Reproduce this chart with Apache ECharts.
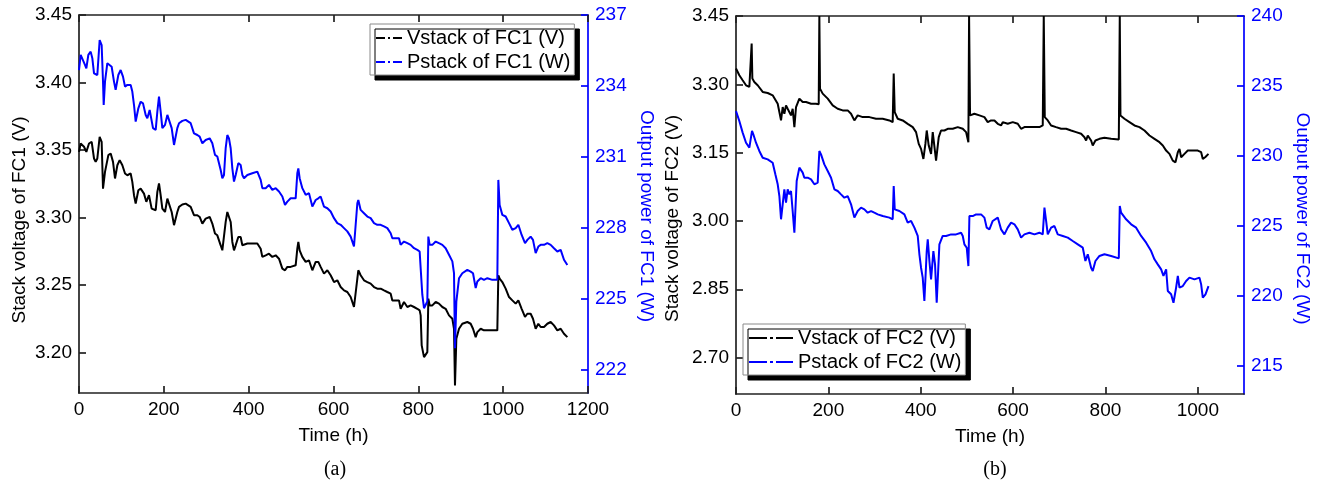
<!DOCTYPE html>
<html>
<head>
<meta charset="utf-8">
<script src="https://cdn.jsdelivr.net/npm/echarts@6/dist/echarts.min.js"></script>
<style>
  html, body { margin: 0; padding: 0; background: #fff; }
  #chart { width: 1335px; height: 493px; }
</style>
</head>
<body>
<div id="chart"></div>
<script>
// ---- FC1: stack voltage (V) and output power (W) versus time (h) ----
const fc1VoltTime = [0,3.9,11.8,17.3,23.6,29.9,35.4,39.3,43.2,48.7,
  53.4,56.6,61.3,69.2,74.7,80.2,84.9,90.4,95.9,102.2,
  108.5,114.0,121.8,125.7,129.7,133.6,139.9,145.4,153.2,158.7,
  165.0,171.3,174.5,180.8,184.7,188.6,192.5,196.5,202.8,208.3,
  212.2,218.5,224.0,227.9,231.8,235.8,243.6,251.5,263.3,271.1,
  279.0,284.5,290.8,298.6,308.1,314.3,320.6,326.1,334.0,337.9,
  341.8,345.8,349.7,353.6,357.6,361.5,365.4,369.4,375.6,381.1,
  385.1,389.0,396.9,408.6,420.4,424.4,428.3,432.2,440.1,447.9,
  455.8,463.7,471.5,479.4,485.7,491.2,499.0,510.8,514.7,517.1,
  520.2,526.5,534.4,542.2,550.1,558.0,564.2,569.7,577.6,585.5,
  593.3,601.2,609.0,616.9,624.8,632.6,640.5,648.3,652.3,656.2,
  658.5,664.0,671.9,679.8,687.6,695.5,703.3,711.2,719.1,726.9,
  734.8,738.7,746.6,754.4,758.3,766.2,774.1,781.9,789.8,797.6,
  803.1,805.5,807.9,813.4,817.3,821.2,823.6,826.7,833.0,840.9,
  848.7,856.6,864.4,872.3,880.2,884.1,886.4,889.6,895.9,903.7,
  915.5,923.4,928.9,935.2,939.1,947.0,954.8,962.7,974.5,986.2,
  988.6,991.7,998.0,1005.9,1013.8,1021.6,1029.5,1035.8,1043.6,1051.5,
  1057.0,1064.8,1070.3,1076.6,1082.9,1088.4,1096.3,1104.1,1112.0,1119.8,
  1127.7,1135.6,1143.4,1151.3];
const fc1Volt = [3.3486,3.3548,3.3524,3.3486,3.3548,3.3561,3.3437,3.3412,3.3437,3.3598,
  3.3561,3.3214,3.3338,3.3462,3.3474,3.3412,3.3289,3.3387,3.3425,3.3387,
  3.3326,3.3313,3.3326,3.3264,3.3165,3.3103,3.3202,3.3214,3.3177,3.3116,
  3.3165,3.3066,3.3066,3.3054,3.3190,3.3252,3.3165,3.3066,3.3041,3.3140,
  3.3153,3.3041,3.2943,3.2930,3.3041,3.3079,3.3096,3.3103,3.3079,3.3017,
  3.3017,3.3004,3.2955,3.2992,3.3004,3.2955,3.2881,3.2868,3.2794,3.2757,
  3.2769,3.2967,3.3041,3.3029,3.2967,3.2819,3.2757,3.2794,3.2856,3.2856,
  3.2794,3.2782,3.2807,3.2807,3.2807,3.2819,3.2769,3.2708,3.2720,3.2732,
  3.2708,3.2720,3.2695,3.2621,3.2609,3.2634,3.2634,3.2646,3.2769,3.2819,
  3.2757,3.2708,3.2671,3.2683,3.2609,3.2671,3.2671,3.2634,3.2584,3.2609,
  3.2572,3.2522,3.2535,3.2485,3.2460,3.2448,3.2411,3.2337,3.2337,3.2547,
  3.2609,3.2572,3.2535,3.2522,3.2510,3.2485,3.2473,3.2473,3.2460,3.2448,
  3.2436,3.2386,3.2386,3.2386,3.2324,3.2374,3.2337,3.2349,3.2337,3.2324,
  3.2312,3.2275,3.2053,3.1966,3.1954,3.2003,3.2399,3.2349,3.2349,3.2374,
  3.2362,3.2337,3.2324,3.2275,3.2250,3.2176,3.1756,3.2102,3.2176,3.2213,
  3.2226,3.2213,3.2176,3.2114,3.2151,3.2176,3.2164,3.2164,3.2164,3.2164,
  3.2572,3.2547,3.2522,3.2473,3.2411,3.2386,3.2362,3.2386,3.2324,3.2263,
  3.2287,3.2287,3.2250,3.2176,3.2213,3.2189,3.2189,3.2213,3.2226,3.2201,
  3.2164,3.2176,3.2139,3.2114];

const fc1PowerTime = [0,3.9,7.9,14.1,17.3,22.0,27.5,31.4,35.4,39.3,
  43.2,48.7,53.4,56.6,58.2,61.3,66.8,70.7,77.0,82.5,
  86.4,92.7,98.2,103.7,108.5,114.0,121.8,125.7,129.7,133.6,
  139.9,145.4,150.9,157.2,161.1,166.6,171.3,174.5,180.8,184.7,
  188.6,192.5,196.5,202.8,208.3,212.2,218.5,224.0,227.9,231.8,
  235.8,243.6,251.5,263.3,271.1,279.0,284.5,290.8,298.6,308.1,
  314.3,320.6,326.1,334.0,337.9,341.8,345.8,349.7,353.6,357.6,
  361.5,365.4,369.4,375.6,381.1,385.1,389.0,396.9,408.6,420.4,
  424.4,428.3,432.2,440.1,447.9,455.8,463.7,471.5,479.4,485.7,
  491.2,499.0,510.8,514.7,517.1,520.2,526.5,534.4,542.2,550.1,
  558.0,564.2,569.7,577.6,585.5,593.3,601.2,609.0,616.9,624.8,
  632.6,640.5,648.3,652.3,656.2,658.5,664.0,671.9,679.8,687.6,
  695.5,703.3,711.2,719.1,726.9,734.8,738.7,746.6,754.4,758.3,
  766.2,774.1,781.9,789.8,797.6,803.1,805.5,809.4,813.4,817.3,
  821.2,823.6,826.7,833.0,840.9,848.7,856.6,864.4,872.3,880.2,
  884.1,886.4,889.6,895.9,903.7,915.5,923.4,928.9,935.2,939.1,
  947.0,954.8,962.7,974.5,986.2,988.6,991.7,998.0,1005.9,1013.8,
  1021.6,1029.5,1035.8,1043.6,1051.5,1057.0,1064.8,1070.3,1076.6,1082.9,
  1088.4,1096.3,1104.1,1112.0,1119.8,1127.7,1135.6,1143.4,1151.3];
const fc1Power = [234.67,235.31,235.38,234.89,234.74,235.31,235.45,235.17,234.53,234.46,
  234.46,235.94,235.73,234.18,233.19,234.18,234.96,235.03,234.81,234.18,
  233.83,234.46,234.67,234.39,233.97,234.04,234.04,233.76,233.19,232.49,
  233.05,233.33,233.26,232.77,232.63,232.98,233.05,232.21,232.14,232.91,
  233.55,232.91,232.21,232.35,232.77,232.84,232.21,231.50,231.43,232.21,
  232.42,232.52,232.56,232.42,231.99,231.92,231.85,231.57,231.71,231.78,
  231.57,231.08,231.01,230.44,230.09,230.23,231.36,231.92,231.78,231.36,
  230.51,229.95,230.23,230.73,230.65,230.23,230.09,230.23,230.30,230.37,
  230.30,230.02,229.67,229.67,229.81,229.60,229.67,229.53,229.32,228.96,
  229.10,229.24,229.24,230.30,230.51,230.09,229.67,229.39,229.46,228.89,
  229.17,229.24,229.32,228.89,228.82,228.68,228.40,228.19,228.12,227.98,
  227.84,227.62,227.20,227.27,229.03,229.17,228.75,228.61,228.47,228.40,
  228.19,228.12,228.12,228.05,227.98,227.76,227.55,227.55,227.55,227.27,
  227.41,227.34,227.27,227.13,227.06,226.99,226.28,225.16,224.59,224.52,
  224.87,227.62,227.27,227.27,227.41,227.34,227.27,227.13,226.85,226.57,
  226.07,222.90,224.87,225.86,226.07,226.21,226.14,226.07,225.44,225.72,
  225.86,225.79,225.86,225.79,225.79,230.02,228.96,228.54,228.47,228.19,
  227.91,227.98,228.12,227.69,227.34,227.48,227.62,227.48,226.92,227.20,
  227.27,227.27,227.34,227.27,227.13,226.99,227.06,226.64,226.42];

// ---- FC2: stack voltage (V) and output power (W) versus time (h) ----
const fc2VoltTime = [0,7.2,14.4,21.7,28.9,32.5,33.9,35.4,39.7,46.9,
  57.8,68.6,79.4,90.3,93.9,97.5,101.1,104.7,108.3,111.9,
  115.5,119.1,122.7,126.4,130.0,137.2,144.4,151.6,162.5,173.3,
  179.1,180.5,181.9,187.7,198.6,209.4,220.2,231.0,241.9,249.1,
  256.3,263.5,274.4,288.8,303.2,317.7,332.1,339.3,341.5,343.7,
  350.2,361.0,371.8,382.7,389.9,395.7,400.7,405.8,410.1,413.0,
  417.3,422.4,426.0,429.6,433.2,439.0,444.0,451.3,458.5,469.3,
  480.1,491.0,498.2,503.2,504.7,506.8,516.2,527.1,537.9,545.1,
  552.3,559.6,566.8,574.0,577.6,588.4,599.3,610.1,617.3,624.5,
  635.4,646.2,657.0,664.2,666.4,668.6,675.1,682.3,693.1,704.0,
  714.8,725.6,736.4,747.3,754.5,758.1,761.7,768.9,772.5,778.3,
  787.0,797.8,812.3,828.9,831.0,832.5,841.1,852.0,862.8,873.6,
  884.5,895.3,906.1,916.9,924.2,931.4,938.6,945.8,951.6,956.7,
  960.3,963.9,971.1,978.3,989.1,1000.0,1007.2,1010.8,1015.9,1023.1];
const fc2Volt = [3.3346,3.3199,3.3089,3.2979,3.2942,3.2942,3.3897,3.3126,3.3052,3.2979,
  3.2832,3.2809,3.2758,3.2574,3.2391,3.2207,3.2501,3.2354,3.2538,3.2464,
  3.2501,3.2317,3.2464,3.2060,3.2501,3.2685,3.2611,3.2611,3.2574,3.2574,
  3.2560,3.45,3.2905,3.2795,3.2685,3.2538,3.2464,3.2427,3.2427,3.2354,
  3.2207,3.2317,3.2280,3.2280,3.2244,3.2244,3.2207,3.2170,3.3236,3.2391,
  3.2244,3.2207,3.2133,3.2060,3.1950,3.1692,3.1582,3.1362,3.1692,3.1986,
  3.1656,3.1472,3.1950,3.1913,3.1325,3.1839,3.1986,3.1986,3.2023,3.2023,
  3.2060,3.2023,3.1950,3.1729,3.45,3.2317,3.2354,3.2317,3.2280,3.2170,
  3.2207,3.2207,3.2133,3.2097,3.2170,3.2133,3.2170,3.2133,3.2023,3.2060,
  3.2060,3.2060,3.2060,3.2097,3.45,3.2280,3.2207,3.2097,3.2060,3.2023,
  3.2023,3.1986,3.1950,3.1913,3.1839,3.1766,3.1876,3.1766,3.1656,3.1766,
  3.1803,3.1825,3.1803,3.1788,3.45,3.2317,3.2244,3.2170,3.2097,3.2060,
  3.1986,3.1876,3.1803,3.1729,3.1656,3.1545,3.1472,3.1325,3.1288,3.1509,
  3.1582,3.1398,3.1472,3.1545,3.1545,3.1545,3.1509,3.1362,3.1398,3.1472];

const fc2PowerTime = [0,7.2,14.4,21.7,28.9,32.5,34.7,37.5,43.3,50.5,
  57.8,68.6,79.4,85.2,90.3,93.9,97.5,101.1,104.7,108.3,
  111.9,115.5,119.1,122.7,126.4,128.5,131.4,137.2,144.4,148.0,
  155.2,162.5,169.7,176.9,180.5,184.1,191.3,198.6,205.8,213.0,
  220.2,227.4,234.7,241.9,249.1,256.3,263.5,270.8,278.0,285.2,
  292.4,299.6,306.9,317.7,332.1,339.3,341.5,343.7,353.8,364.6,
  371.8,379.1,386.3,393.5,397.1,400.7,404.3,407.9,413.0,415.2,
  418.8,422.4,427.4,431.0,434.6,440.4,447.6,454.9,465.7,476.5,
  487.4,491.0,494.6,499.6,503.2,505.4,512.6,519.8,530.7,537.9,
  542.9,548.7,555.9,566.8,574.0,581.2,588.4,595.7,602.9,610.1,
  617.3,624.5,635.4,646.2,657.0,664.2,667.9,671.5,675.1,682.3,
  689.5,696.7,707.6,718.4,729.2,740.1,750.9,756.6,761.7,768.9,
  772.5,778.3,787.0,797.8,812.3,828.9,831.0,833.9,844.7,855.6,
  866.4,877.2,888.1,898.9,906.1,913.3,920.6,925.6,931.4,935.0,
  942.2,947.3,953.0,956.7,960.3,967.5,974.7,981.9,992.8,1003.6,
  1007.2,1010.8,1016.6,1023.1];
const fc2Power = [233.21,232.50,231.67,230.95,230.60,230.60,231.79,231.55,230.95,230.36,
  229.88,229.76,229.52,228.69,227.98,227.14,225.48,226.55,227.62,226.67,
  227.62,227.26,227.50,226.07,224.52,226.07,228.21,229.17,228.81,228.45,
  228.45,228.33,227.98,228.10,230.36,230.12,229.40,228.93,228.45,227.62,
  227.50,227.26,227.02,227.14,226.55,225.60,226.07,226.31,226.19,225.95,
  226.07,225.95,225.83,225.71,225.60,225.48,227.86,226.19,226.07,225.83,
  225.24,225.36,224.88,224.29,222.98,222.02,221.31,219.64,223.21,224.05,
  222.50,221.19,223.21,222.26,219.52,223.69,224.29,224.29,224.40,224.40,
  224.52,224.29,223.69,223.45,222.14,225.71,225.71,225.83,225.83,225.60,
  224.88,224.76,225.36,225.60,224.76,224.40,224.88,225.24,225.12,224.76,
  224.17,224.40,224.52,224.40,224.52,224.40,226.31,225.36,224.40,224.88,
  225.00,224.40,224.29,224.17,223.93,223.69,223.45,222.50,222.98,222.02,
  221.79,222.50,222.86,222.98,222.86,222.69,226.43,225.95,225.48,225.12,
  224.88,224.29,223.81,223.21,222.62,222.26,221.90,221.43,221.90,220.36,
  220.12,219.52,220.60,221.43,220.60,220.71,221.07,221.31,221.19,221.31,
  220.83,219.88,220.12,220.71];

// ---- tick positions ----
const fc1TimeTicks  = [0, 200, 400, 600, 800, 1000, 1200];
const fc1VoltTicks  = [3.20, 3.25, 3.30, 3.35, 3.40, 3.45];
const fc1PowerTicks = [222, 225, 228, 231, 234, 237];
const fc2TimeTicks  = [0, 200, 400, 600, 800, 1000];
const fc2VoltTicks  = [2.70, 2.85, 3.00, 3.15, 3.30, 3.45];
const fc2PowerTicks = [215, 220, 225, 230, 235, 240];

const FONT = '"Liberation Sans", Arial, Helvetica, sans-serif';
const BLACK = '#000000';
const AXIS_BLACK = '#222222';
const BLUE = '#0000ff';

const zip = (xs, ys) => xs.map((x, i) => [x, ys[i]]);

function valueAxis(opts) {
  const color = opts.color || AXIS_BLACK;
  const ticks = opts.ticks;
  const labelColor = opts.labelColor || (color === BLUE ? BLUE : BLACK);
  return {
    type: 'value',
    gridIndex: opts.grid,
    position: opts.position,
    min: opts.min,
    max: opts.max,
    scale: true,
    name: opts.name || '',
    nameLocation: 'middle',
    nameGap: opts.nameGap || 30,
    nameRotate: opts.nameRotate,
    nameTextStyle: {
      color: labelColor, fontFamily: FONT, fontSize: 19,
      padding: opts.namePadding || 0
    },
    axisLine: { show: true, onZero: false, lineStyle: { color: color, width: 1.7 } },
    axisTick: {
      show: true, inside: true, length: 7,
      customValues: ticks,
      lineStyle: { color: color, width: 1.7 }
    },
    axisLabel: {
      show: opts.showLabels !== false,
      customValues: ticks,
      color: labelColor, fontFamily: FONT, fontSize: 19, margin: 7,
      formatter: opts.formatter || (v => String(v))
    },
    splitLine: { show: false }
  };
}

const fix2 = v => Number(v).toFixed(2);

const lineSeries = (name, xi, yi, data, color) => ({
  type: 'line', name: name, xAxisIndex: xi, yAxisIndex: yi,
  data: data, showSymbol: false, symbol: 'none', clip: true,
  lineStyle: { color: color, width: 2 },
  itemStyle: { color: color },
  emphasis: { disabled: true }
});

const legendBase = {
  orient: 'vertical',
  selectedMode: false,
  itemGap: 4,
  itemHeight: 2,
  textStyle: { color: BLACK, fontFamily: FONT, fontSize: 20, lineHeight: 20 },
  backgroundColor: '#ffffff',
  borderColor: '#8a8a8a',
  borderWidth: 1,
  borderRadius: 0,
  shadowColor: '#000000',
  shadowBlur: 0,
  shadowOffsetX: 5,
  shadowOffsetY: 5
};

const chart = echarts.init(document.getElementById('chart'), null, { renderer: 'canvas' });

chart.setOption({
  animation: false,
  backgroundColor: '#ffffff',
  grid: [
    { left: 79, top: 15, width: 509, height: 378, containLabel: false },
    { left: 736, top: 16, width: 508, height: 378, containLabel: false }
  ],
  xAxis: [
    valueAxis({ grid: 0, position: 'bottom', min: 0, max: 1200, ticks: fc1TimeTicks,
      name: 'Time (h)', nameGap: 33 }),
    valueAxis({ grid: 0, position: 'top', min: 0, max: 1200, ticks: fc1TimeTicks, showLabels: false }),
    valueAxis({ grid: 1, position: 'bottom', min: 0, max: 1100, ticks: fc2TimeTicks,
      name: 'Time (h)', nameGap: 33 }),
    valueAxis({ grid: 1, position: 'top', min: 0, max: 1100, ticks: fc2TimeTicks, showLabels: false })
  ],
  yAxis: [
    valueAxis({ grid: 0, position: 'left', min: 3.17, max: 3.45, ticks: fc1VoltTicks,
      formatter: fix2, name: 'Stack voltage of FC1 (V)', nameGap: 50, nameRotate: 90,
      namePadding: [0, 32, 0, 0] }),
    valueAxis({ grid: 0, position: 'right', min: 221, max: 237, ticks: fc1PowerTicks,
      color: BLUE, name: 'Output power of FC1 (W)', nameGap: 49, nameRotate: -90,
      namePadding: [0, 0, 0, 24] }),
    valueAxis({ grid: 1, position: 'left', min: 2.62, max: 3.45, ticks: fc2VoltTicks,
      formatter: fix2, name: 'Stack voltage of FC2 (V)', nameGap: 54, nameRotate: 90,
      namePadding: [0, 27, 0, 0] }),
    valueAxis({ grid: 1, position: 'right', min: 213, max: 240, ticks: fc2PowerTicks,
      color: BLUE, name: 'Output power of FC2 (W)', nameGap: 49, nameRotate: -90,
      namePadding: [0, 0, 0, 27] })
  ],
  legend: [
    Object.assign({}, legendBase, {
      data: ['Vstack of FC1 (V)', 'Pstack of FC1 (W)'],
      left: 370, top: 24, padding: [4, 4, 3, 6],
      itemWidth: 26,
      icon: 'path://M0,0H9V2H0Z M12,0H14V2H12Z M17,0H26V2H17Z'
    }),
    Object.assign({}, legendBase, {
      data: ['Vstack of FC2 (V)', 'Pstack of FC2 (W)'],
      left: 743, top: 324, padding: [4, 4, 3, 6],
      itemWidth: 44,
      icon: 'path://M0,0H18V2H0Z M21,0H24V2H21Z M27,0H44V2H27Z'
    })
  ],
  graphic: [
    { type: 'text', x: 335, y: 470, style: { text: '(a)', fill: BLACK,
      font: '20px "Liberation Serif", "Times New Roman", serif',
      textAlign: 'center', textVerticalAlign: 'middle' } },
    { type: 'text', x: 995, y: 470, style: { text: '(b)', fill: BLACK,
      font: '20px "Liberation Serif", "Times New Roman", serif',
      textAlign: 'center', textVerticalAlign: 'middle' } }
  ],
  series: [
    lineSeries('Vstack of FC1 (V)', 0, 0, zip(fc1VoltTime, fc1Volt), BLACK),
    lineSeries('Pstack of FC1 (W)', 0, 1, zip(fc1PowerTime, fc1Power), BLUE),
    lineSeries('Vstack of FC2 (V)', 2, 2, zip(fc2VoltTime, fc2Volt), BLACK),
    lineSeries('Pstack of FC2 (W)', 2, 3, zip(fc2PowerTime, fc2Power), BLUE)
  ]
});
</script>
</body>
</html>
